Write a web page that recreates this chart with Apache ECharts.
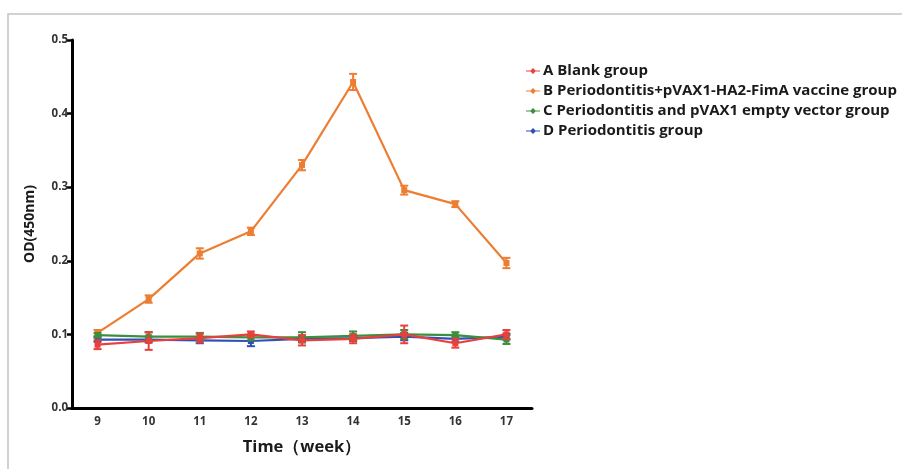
<!DOCTYPE html>
<html><head><meta charset="utf-8">
<script src="https://cdn.jsdelivr.net/npm/echarts@6/dist/echarts.min.js"></script>
<style>html,body{margin:0;padding:0;background:#fff}#c{width:902px;height:469px}</style>
</head><body><div id="c"></div>
<script>
const weeks = ['9','10','11','12','13','14','15','16','17'];
const seriesNames = ['A Blank group','B Periodontitis+pVAX1-HA2-FimA vaccine group','C Periodontitis and pVAX1 empty vector group','D Periodontitis group'];
const meanA = [0.086,0.091,0.095,0.100,0.092,0.094,0.100,0.088,0.100];
const errA  = [0.006,0.012,0.006,0.004,0.007,0.006,0.012,0.006,0.006];
const meanB = [0.102,0.148,0.210,0.240,0.330,0.443,0.296,0.277,0.197];
const errB  = [0.004,0.005,0.007,0.005,0.007,0.011,0.006,0.004,0.007];
const meanC = [0.099,0.097,0.097,0.096,0.096,0.098,0.100,0.099,0.093];
const errC  = [0.003,0.006,0.005,0.004,0.007,0.006,0.006,0.004,0.006];
const meanD = [0.093,0.093,0.092,0.091,0.094,0.095,0.097,0.094,0.097];
const errD  = [0.003,0.004,0.004,0.007,0.004,0.004,0.005,0.004,0.004];
const yTicks = [0.0,0.1,0.2,0.3,0.4,0.5];

const colors = ['#e8403a','#ed7d31','#3c8f3c','#3050b8'];
const means = [meanA,meanB,meanC,meanD];
const errs = [errA,errB,errC,errD];
const zs = [8,5,7,6];

const series = [];
means.forEach((m,i)=>{
  series.push({
    name: seriesNames[i], type:'line', data:m, z:zs[i],
    symbol:'rect', symbolSize:6, showSymbol:true,
    lineStyle:{color:colors[i],width:2.2}, itemStyle:{color:colors[i]}
  });
  series.push({
    name: seriesNames[i], type:'custom', z:zs[i],
    data: m.map((v,j)=>[j, v-errs[i][j], v+errs[i][j]]),
    renderItem: function(params, api){
      const lo = api.coord([api.value(0), api.value(1)]);
      const hi = api.coord([api.value(0), api.value(2)]);
      const w = 4;
      const st = {stroke:colors[i], lineWidth:2};
      return {type:'group', children:[
        {type:'line', shape:{x1:lo[0],y1:lo[1],x2:hi[0],y2:hi[1]}, style:st},
        {type:'line', shape:{x1:lo[0]-w,y1:lo[1],x2:lo[0]+w,y2:lo[1]}, style:st},
        {type:'line', shape:{x1:hi[0]-w,y1:hi[1],x2:hi[0]+w,y2:hi[1]}, style:st}
      ]};
    }
  });
});

const chart = echarts.init(document.getElementById('c'));
chart.setOption({
  animation:false,
  textStyle:{fontFamily:'Open Sans'},
  graphic:[{type:'rect', shape:{x:8,y:14,width:1000,height:1000}, style:{fill:'none',stroke:'#c4c4c4',lineWidth:1.5}, silent:true}],
  legend:{
    data: seriesNames.map((n,i)=>({name:n, itemStyle:{color:colors[i]}})),
    orient:'vertical', left:521, top:58, itemGap:4, itemWidth:14, itemHeight:7,
    icon:'path://M0,3 L14,3 L14,4 L0,4 Z M7,0.5 L10,3.5 L7,6.5 L4,3.5 Z',
    textStyle:{fontFamily:'Open Sans', fontWeight:'bold', fontSize:15, lineHeight:16, color:'#1a1a1a', padding:[0,0,0,-2]}
  },
  grid:{left:72, right:370, top:40, bottom:61},
  xAxis:{
    type:'category', data:weeks, boundaryGap:true,
    name:'Time（week）', nameLocation:'middle', nameGap:31,
    nameTextStyle:{fontFamily:'Open Sans', fontWeight:'bold', fontSize:16.5, color:'#1a1a1a'},
    axisLine:{lineStyle:{color:'#000',width:3}},
    axisTick:{alignWithLabel:true, length:5, lineStyle:{color:'#000',width:2.5}},
    axisLabel:{fontWeight:'bold', fontSize:11.5, color:'#333', margin:8}
  },
  yAxis:{
    type:'value', min:yTicks[0], max:yTicks[yTicks.length-1], interval:0.1,
    name:'OD(450nm)', nameLocation:'middle', nameGap:35,
    nameTextStyle:{fontFamily:'Open Sans', fontWeight:'bold', fontSize:14, color:'#1a1a1a'},
    splitLine:{show:false},
    axisLine:{show:true, lineStyle:{color:'#000',width:3}},
    axisTick:{show:true, length:5, lineStyle:{color:'#000',width:2.5}},
    axisLabel:{fontWeight:'bold', fontSize:11.5, color:'#333', margin:4, formatter:v=>v.toFixed(1)}
  },
  series: series
});
</script></body></html>
